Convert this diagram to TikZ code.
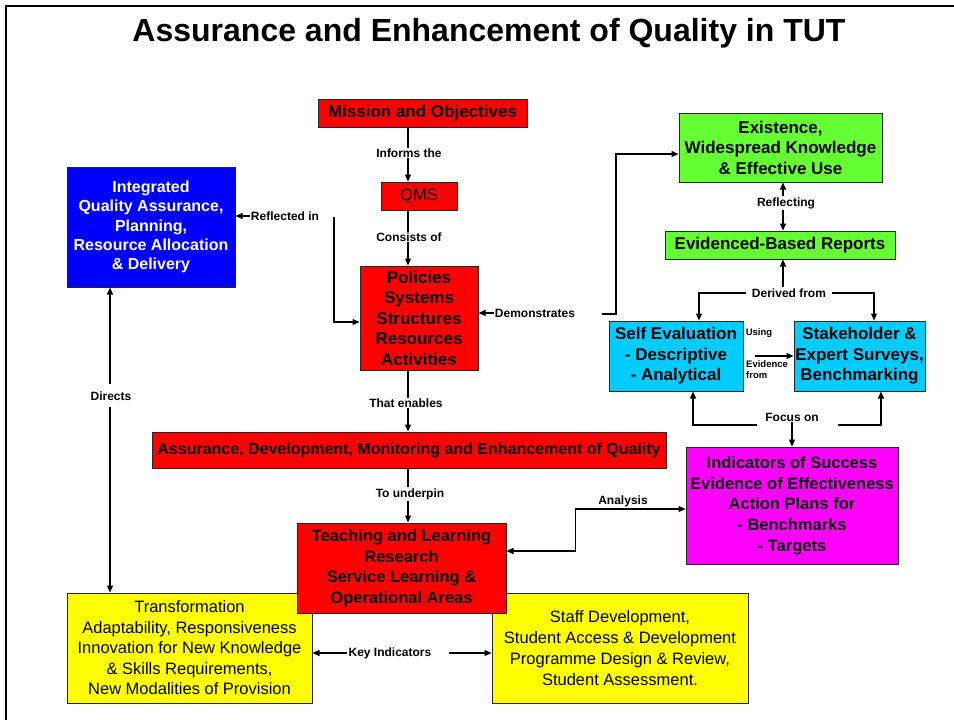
\documentclass[tikz,border=0pt]{standalone}
\usepackage{fontspec}
\setmainfont{Liberation Sans}
\usetikzlibrary{arrows.meta,calc}
\definecolor{cred}{RGB}{255,0,0}
\definecolor{cblue}{RGB}{0,0,255}
\definecolor{cgreen}{RGB}{102,255,51}
\definecolor{ccyan}{RGB}{0,204,255}
\definecolor{cmag}{RGB}{255,0,255}
\definecolor{cyel}{RGB}{255,255,0}
\tikzset{
  box/.style={draw=black!85, line width=1pt, inner sep=0pt, align=center, text=black},
  bb/.style={font=\bfseries\fontsize{17}{20.5}\selectfont},
  yb/.style={font=\fontsize{16.5}{20.5}\selectfont},
  lbl/.style={font=\bfseries\fontsize{12}{13}\selectfont, inner sep=1pt, fill=white},
  tiny/.style={font=\bfseries\fontsize{9.5}{11}\selectfont, inner sep=0pt, align=left},
  arr/.style={-{Triangle[length=7pt,width=6pt]}, line width=1.1pt},
  ln/.style={line width=1.1pt},
}
\begin{document}
\begin{tikzpicture}[x=1pt,y=-1pt]
\useasboundingbox (0,0) rectangle (954,720);
% frame
\draw[line width=2.5pt] (6,720) -- (6,6) -- (954,6);
% title
\node[font=\bfseries\fontsize{32}{36}\selectfont] (title) at (489,33) {Assurance and Enhancement of Quality in TUT};

% boxes
\node[box,bb,fill=cred,minimum width=209,minimum height=28] (mission) at (422.5,113) {Mission and Objectives};
\node[box,fill=cred,font=\fontsize{16.5}{19}\selectfont,minimum width=76,minimum height=28] (qms) at (419,196) {QMS};
\node[box,bb,fill=cred,minimum width=118,minimum height=104] (policies) at (419,318) {Policies\\Systems\\Structures\\Resources\\Activities};
\node[box,fill=cblue,text=white,font=\bfseries\fontsize{16}{19.2}\selectfont,minimum width=168,minimum height=120] (blue) at (151,227) {Integrated\\Quality Assurance,\\Planning,\\Resource Allocation\\\& Delivery};
\node[box,fill=cred,font=\bfseries\fontsize{16}{19}\selectfont,minimum width=514,minimum height=36] (assur) at (409,450) {Assurance, Development, Monitoring and Enhancement of Quality};
\node[box,yb,fill=cyel,minimum width=245,minimum height=110] (yell) at (189.5,648) {Transformation\\Adaptability, Responsiveness\\Innovation for New Knowledge\\\& Skills Requirements,\\New Modalities of Provision};
\node[box,font=\fontsize{16.5}{21}\selectfont,fill=cyel,minimum width=256,minimum height=110] (yelr) at (620,648) {Staff Development,\\Student Access \& Development\\Programme Design \& Review,\\Student Assessment.};
\node[box,font=\bfseries\fontsize{16.5}{20.5}\selectfont,fill=cred,minimum width=209,minimum height=90] (teach) at (401.5,568) {Teaching and Learning\\Research\\Service Learning \&\\Operational Areas};
\node[box,font=\bfseries\fontsize{16.5}{20.7}\selectfont,fill=cmag,minimum width=212,minimum height=117] (mag) at (792,505.5) {Indicators of Success\\Evidence of Effectiveness\\Action Plans for\\- Benchmarks\\- Targets};
\node[box,bb,fill=cgreen,minimum width=203,minimum height=69] (exist) at (780.5,147.5) {Existence,\\Widespread Knowledge\\\& Effective Use};
\node[box,bb,fill=cgreen,minimum width=230,minimum height=28] (evid) at (780,245) {Evidenced-Based Reports};
\node[box,bb,fill=ccyan,minimum width=134,minimum height=70] (self) at (676,356) {Self Evaluation\\- Descriptive\\- Analytical};
\node[box,bb,fill=ccyan,minimum width=131,minimum height=70] (stake) at (859.5,356) {Stakeholder \&\\Expert Surveys,\\Benchmarking};

% helper coordinates
\coordinate (ax) at (408,0);
\coordinate (r1) at (334,217);
\coordinate (d1) at (602,314);
\coordinate (d2) at (616,154);
\coordinate (ex) at (783,0);
\coordinate (ev1) at (755,356);
\coordinate (fl) at (757,425);
\coordinate (fr) at (838,425);
\coordinate (fx) at (693,0);
\coordinate (fy) at (881,0);
\coordinate (dl) at (699,0);
\coordinate (dr) at (874,0);
\coordinate (k1) at (449,653);
\coordinate (dx) at (110,0);

% central vertical chain
\draw[arr] (mission.south -| ax) -- (qms.north -| ax);
\draw[arr] (qms.south -| ax) -- (policies.north -| ax);
\draw[arr] (policies.south -| ax) -- (assur.north -| ax);
\draw[arr] (assur.south -| ax) -- (teach.north -| ax);
\node[lbl] (inform) at (409,153) {Informs the};
\node[lbl] (consist) at (409,237) {Consists of};
\node[lbl] (enable) at (406,403) {That enables};
\node[lbl] (underpin) at (410,494) {To underpin};

% directs
\draw[arr] (yell.north -| dx) ++(0,-209) -- (blue.south -| dx);
\draw[arr] (dx |- 0,407) -- (yell.north -| dx);
\node[lbl,fill=none] (directs) at (111,396) {Directs};

% reflected in
\node[lbl] (reflin) at (285,216) {Reflected in};
\draw[arr] (reflin.west) -- (reflin.west -| blue.east);
\draw[arr] (r1) |- ($(policies.west)+(0,4)$);

% demonstrates
\node[lbl] (demo) at (535,313) {Demonstrates};
\draw[arr] (demo.west) -- (demo.west -| policies.east);
\draw[arr] (d1) -| (d2) -- (d2 -| exist.west);

% reflecting
\node[lbl] (reflect) at (786,203) {Reflecting};
\draw[arr] (reflect.north -| ex) -- (exist.south -| ex);
\draw[arr] (reflect.south -| ex) -- (evid.north -| ex);

% derived from
\node[lbl,inner xsep=6pt] (derived) at (789,293) {Derived from};
\draw[arr] (derived.north -| ex) -- (evid.south -| ex);
\draw[arr] (derived.west) -- (derived.west -| dl) -- (self.north -| dl);
\draw[arr] (derived.east) -- (derived.east -| dr) -- (stake.north -| dr);

% using evidence from
\node[tiny] (using) at (759,333) {Using};
\node[tiny,anchor=west] (evfrom) at (746,370) {Evidence\\from};
\draw[arr] (ev1) -- (ev1 -| stake.west);

% focus on
\node[lbl] (focus) at (792,417) {Focus on};
\draw[arr] (fl) -- (fl -| fx) -- (self.south -| fx);
\draw[arr] (fr) -- (fr -| fy) -- (stake.south -| fy);
\draw[arr] (focus.south -| mag.north) -- (mag.north);

% analysis
\draw[{Triangle[length=7pt,width=6pt]}-{Triangle[length=7pt,width=6pt]}, ln] ($(teach.east)+(0,-17)$) -- ++(69,0) |- ($(mag.west)+(0,3.5)$);
\node[lbl,fill=none] (analysis) at (623,501) {Analysis};

% key indicators
\node[lbl] (keyind) at (390,653) {Key Indicators};
\draw[arr] (keyind.west) -- (keyind.west -| yell.east);
\draw[arr] (k1) -- (k1 -| yelr.west);
\end{tikzpicture}
\end{document}
